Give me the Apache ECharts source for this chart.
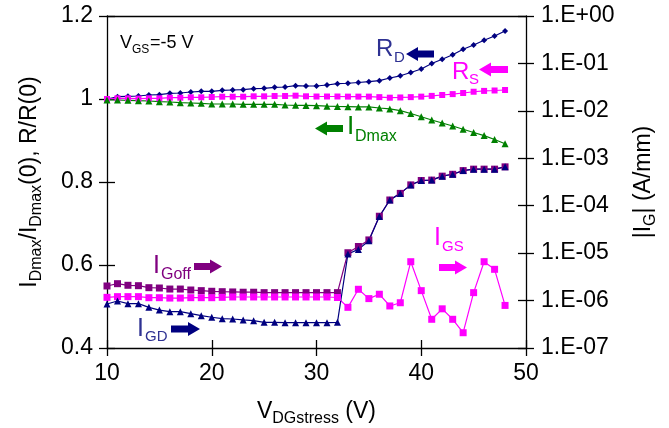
<!DOCTYPE html>
<html>
<head>
<meta charset="utf-8">
<script src="https://cdn.jsdelivr.net/npm/echarts@6/dist/echarts.min.js"></script>
<style>
html,body{margin:0;padding:0;background:#fff;}
#c{width:669px;height:428px;}
</style>
</head>
<body>
<div id="c"></div>
<script>
// ---- data ----
const xs = [10,11,12,13,14,15,16,17,18,19,20,21,22,23,24,25,26,27,28,29,30,31,32,33,34,35,36,37,38,39,40,41,42,43,44,45,46,47,48];

const RD = [1.000,1.0055,1.0065,1.0072,1.0096,1.0104,1.0137,1.0145,1.0169,1.0186,1.0186,1.021,1.0217,1.0224,1.0248,1.0258,1.0282,1.0289,1.032,1.0313,1.0313,1.0337,1.0369,1.038,1.0398,1.0417,1.0441,1.0506,1.0559,1.0639,1.0723,1.0855,1.0957,1.1067,1.1198,1.1301,1.1414,1.1518,1.1639];

const RS = [1.000,1.0017,1.0017,1.0010,1.0017,1.0017,1.0031,1.0031,1.0041,1.0041,1.0048,1.0055,1.0055,1.0055,1.0065,1.0065,1.0072,1.0072,1.008,1.0065,1.0060,1.0060,1.0060,1.0057,1.0057,1.0057,1.0045,1.0032,1.0037,1.0045,1.0057,1.0075,1.0096,1.0118,1.0145,1.0175,1.0195,1.0205,1.0217];

const IDmax = [0.9976,0.9976,0.9968,0.9959,0.9952,0.9935,0.9928,0.9911,0.9904,0.9896,0.9880,0.9880,0.9880,0.9872,0.9872,0.9872,0.9872,0.9855,0.9848,0.9845,0.9840,0.9827,0.9820,0.9815,0.9810,0.9808,0.9783,0.9760,0.9719,0.9650,0.9573,0.9494,0.9422,0.9350,0.9270,0.9193,0.9118,0.9025,0.8920];

const IGoff = [2.03e-6,2.27e-6,2.10e-6,2.06e-6,1.87e-6,1.84e-6,1.75e-6,1.75e-6,1.67e-6,1.62e-6,1.57e-6,1.54e-6,1.52e-6,1.50e-6,1.50e-6,1.47e-6,1.47e-6,1.47e-6,1.47e-6,1.47e-6,1.47e-6,1.47e-6,1.47e-6,1.02e-5,1.38e-5,1.9e-5,6.0e-5,1.32e-4,1.82e-4,2.75e-4,3.4e-4,3.47e-4,4.2e-4,4.6e-4,5.5e-4,5.9e-4,5.9e-4,5.9e-4,6.6e-4];

const IGS = [1.17e-6,1.21e-6,1.21e-6,1.21e-6,1.15e-6,1.15e-6,1.13e-6,1.13e-6,1.15e-6,1.15e-6,1.15e-6,1.17e-6,1.19e-6,1.19e-6,1.19e-6,1.19e-6,1.19e-6,1.19e-6,1.19e-6,1.19e-6,1.19e-6,1.19e-6,1.16e-6,7.2e-7,1.73e-6,1.10e-6,1.36e-6,7.7e-7,9.0e-7,6.6e-6,1.62e-6,4.03e-7,6.7e-7,4.03e-7,2.1e-7,1.47e-6,6.6e-6,4.56e-6,7.9e-7];

const IGD = [8.47e-7,9.8e-7,8.6e-7,8.6e-7,7.2e-7,6.3e-7,5.83e-7,5.83e-7,5.3e-7,4.8e-7,4.45e-7,4.15e-7,4.09e-7,3.9e-7,3.77e-7,3.48e-7,3.48e-7,3.42e-7,3.42e-7,3.42e-7,3.42e-7,3.42e-7,3.48e-7,9.6e-6,1.2e-5,1.83e-5,5.9e-5,1.32e-4,1.82e-4,2.75e-4,3.4e-4,3.47e-4,4.2e-4,4.6e-4,5.5e-4,5.9e-4,5.9e-4,5.9e-4,6.6e-4];

const xTickLabels = ['10','20','30','40','50'];
const leftTickLabels = ['0.4','0.6','0.8','1','1.2'];
const rightTickLabels = ['1.E-07','1.E-06','1.E-05','1.E-04','1.E-03','1.E-02','1.E-01','1.E+00'];

// ---- chart ----
const FONT = 'Liberation Sans, Arial, sans-serif';
const TICK_FS = 23;
const chart = echarts.init(document.getElementById('c'), null, {renderer: 'canvas'});
const pair = arr => xs.map((x, i) => [x, arr[i]]);

const axisLineStyle = {color: '#000', width: 1.3};
const richName = {
  a: {fontSize: 23, fontFamily: FONT, color: '#000', verticalAlign: 'middle', lineHeight: 23},
  b: {fontSize: 16, fontFamily: FONT, color: '#000', verticalAlign: 'middle', lineHeight: 16, padding: [14, 0, 0, 0]}
};

function arrow(tipX, tailX, cy, color) {
  const dir = tailX > tipX ? 1 : -1; // 1: points left
  const headLen = 12 * dir, hh = 7, sh = 3.5;
  const hx = tipX + headLen;
  return {
    type: 'polygon', silent: true, z: 100,
    shape: {points: [[tipX, cy], [hx, cy - hh], [hx, cy - sh], [tailX, cy - sh], [tailX, cy + sh], [hx, cy + sh], [hx, cy + hh]]},
    style: {fill: color}
  };
}
function txt(x, y, s, size, color) {
  return {type: 'text', silent: true, z: 100, x: x, y: y,
    style: {text: s, fontSize: size, fontFamily: FONT, fill: color, align: 'left', verticalAlign: 'middle'}};
}

const option = {
  animation: false,
  backgroundColor: '#fff',
  grid: {left: 107, right: 143, top: 16, bottom: 80, containLabel: false, outerBoundsMode: 'none'},
  xAxis: [
    {type: 'value', min: 10, max: 50, interval: 10, position: 'bottom',
     axisLine: {show: true, onZero: false, lineStyle: axisLineStyle},
     axisTick: {show: true, length: 8, lineStyle: axisLineStyle},
     axisLabel: {fontSize: TICK_FS, fontFamily: FONT, color: '#000', margin: 14,
       formatter: v => xTickLabels[Math.round((v - 10) / 10)]},
     splitLine: {show: false},
     name: '{a|V}{b|DGstress}{a| (V)}', nameLocation: 'middle', nameGap: 52,
     nameTextStyle: {rich: richName}},
    {type: 'value', min: 10, max: 50, interval: 10, position: 'bottom',
     axisLine: {show: false}, axisTick: {show: true, inside: true, length: 8, lineStyle: axisLineStyle},
     axisLabel: {show: false}, splitLine: {show: false}},
    {type: 'value', min: 10, max: 50, interval: 10, position: 'top',
     axisLine: {show: true, onZero: false, lineStyle: axisLineStyle}, axisTick: {show: false},
     axisLabel: {show: false}, splitLine: {show: false}}
  ],
  yAxis: [
    {type: 'value', min: 0.4, max: 1.2, interval: 0.2, position: 'left',
     axisLine: {show: true, onZero: false, lineStyle: axisLineStyle},
     axisTick: {show: true, length: 8, lineStyle: axisLineStyle},
     axisLabel: {fontSize: TICK_FS, fontFamily: FONT, color: '#000', margin: 14,
       formatter: v => leftTickLabels[Math.round((v - 0.4) / 0.2)]},
     splitLine: {show: false},
     name: '{a|I}{b|Dmax}{a|/I}{b|Dmax}{a|(0), R/R(0)}', nameLocation: 'middle', nameGap: 66,
     nameTextStyle: {rich: richName}},
    {type: 'log', logBase: 10, min: 1e-7, max: 1, position: 'right',
     axisLine: {show: true, onZero: false, lineStyle: axisLineStyle},
     axisTick: {show: true, length: 8, lineStyle: axisLineStyle},
     axisLabel: {fontSize: TICK_FS, fontFamily: FONT, color: '#000', margin: 15,
       formatter: v => rightTickLabels[Math.round(Math.log10(v)) + 7]},
     splitLine: {show: false},
     name: '{a||I}{b|G}{a|| (A/mm)}', nameLocation: 'middle', nameGap: 106, nameRotate: 90,
     nameTextStyle: {rich: richName}},
    {type: 'value', min: 0.4, max: 1.2, interval: 0.2, position: 'left',
     axisLine: {show: false}, axisTick: {show: true, inside: true, length: 8, lineStyle: axisLineStyle},
     axisLabel: {show: false}, splitLine: {show: false}},
    {type: 'log', logBase: 10, min: 1e-7, max: 1, position: 'right',
     axisLine: {show: false}, axisTick: {show: true, inside: true, length: 8, lineStyle: axisLineStyle},
     axisLabel: {show: false}, splitLine: {show: false}}
  ],
  series: [
    {name: 'RD', type: 'line', yAxisIndex: 0, data: pair(RD), symbol: 'diamond', symbolSize: 6,
     itemStyle: {color: '#000080'}, lineStyle: {color: '#000080', width: 1.2}},
    {name: 'RS', type: 'line', yAxisIndex: 0, data: pair(RS), symbol: 'rect', symbolSize: 6,
     itemStyle: {color: '#FF00FF'}, lineStyle: {color: '#FF00FF', width: 1.2}},
    {name: 'IDmax', type: 'line', yAxisIndex: 0, data: pair(IDmax), symbol: 'triangle', symbolSize: 7,
     itemStyle: {color: '#008000'}, lineStyle: {color: '#008000', width: 1.2}},
    {name: 'IGoff', type: 'line', yAxisIndex: 1, data: pair(IGoff), symbol: 'rect', symbolSize: 7,
     itemStyle: {color: '#800080'}, lineStyle: {color: '#800080', width: 1.2}},
    {name: 'IGS', type: 'line', yAxisIndex: 1, data: pair(IGS), symbol: 'rect', symbolSize: 7,
     itemStyle: {color: '#FF00FF'}, lineStyle: {color: '#FF00FF', width: 1.2}},
    {name: 'IGD', type: 'line', yAxisIndex: 1, data: pair(IGD), symbol: 'triangle', symbolSize: 7,
     itemStyle: {color: '#000080'}, lineStyle: {color: '#000080', width: 1.2}}
  ],
  graphic: [
    txt(120, 43, 'V', 18, '#000'), txt(132, 50, 'GS', 12, '#000'), txt(150, 43, '=-5 V', 18, '#000'),
    txt(376, 49, 'R', 24, '#2E3192'), txt(394, 58, 'D', 15, '#2E3192'), arrow(406, 434, 54, '#000080'),
    txt(452, 72, 'R', 24, '#FF00FF'), txt(469, 80, 'S', 15, '#FF00FF'), arrow(479, 508, 69.5, '#FF00FF'),
    arrow(315, 343, 128.5, '#008000'), txt(347, 127, 'I', 26, '#008000'), txt(355, 137, 'Dmax', 16, '#008000'),
    txt(153, 266, 'I', 25, '#800080'), txt(161, 275, 'Goff', 16, '#800080'), arrow(222, 194, 266.5, '#800080'),
    txt(137, 329, 'I', 25, '#2E3192'), txt(145, 337, 'GD', 15, '#2E3192'), arrow(200, 171, 329, '#000080'),
    txt(434, 238.5, 'I', 25, '#FF00FF'), txt(442, 247, 'GS', 15, '#FF00FF'), arrow(467, 439, 267.5, '#FF00FF')
  ]
};
chart.setOption(option);
</script>
</body>
</html>
